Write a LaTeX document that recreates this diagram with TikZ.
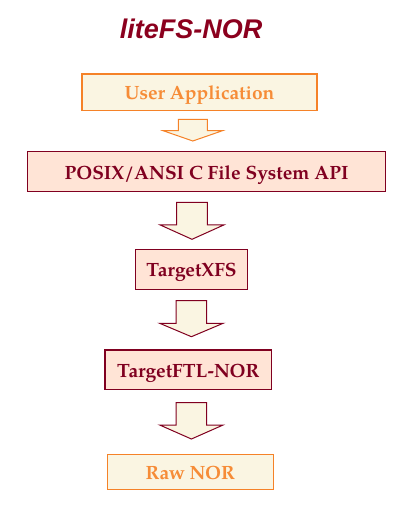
\documentclass[tikz,border=0pt]{standalone}
\usepackage{fontspec}
\setmainfont{Liberation Serif}
\newfontfamily\titlefont{Liberation Sans}
\newfontfamily\boxfont{texgyrepagella-bold.otf}
\definecolor{maroon}{RGB}{128,0,32}
\definecolor{titlered}{RGB}{139,0,30}
\definecolor{orangeline}{RGB}{245,130,40}
\definecolor{orangetext}{RGB}{246,140,55}
\definecolor{cream}{RGB}{250,245,226}
\definecolor{peach}{RGB}{255,228,214}
\tikzset{
  x=1pt, y=-1pt,
  boxtext/.style={inner sep=0pt, text height=15.2pt, text depth=0pt,
    font=\boxfont\fontsize{19.2}{21}\selectfont},
  redbox/.style={boxtext, draw=maroon, fill=peach, line width=1.2pt, text=maroon},
  orangebox/.style={boxtext, draw=orangeline, fill=cream, line width=1.2pt, text=orangetext},
  redarrow/.style={draw=maroon, fill=cream, line width=1pt, line join=miter},
  orangearrow/.style={draw=orangeline, fill=cream, line width=1pt, line join=miter},
}
\newcommand{\blockarr}[7]{% style, cx, top, shaft half, wing half, shoulder y, tip y
  \path[#1] (#2-#4,#3) -- (#2+#4,#3) -- (#2+#4,#6) -- (#2+#5,#6) -- (#2,#7) -- (#2-#5,#6) -- (#2-#4,#6) -- cycle;}
\begin{document}
\begin{tikzpicture}
\useasboundingbox (0,0) rectangle (419,510);
\fill[white] (0,0) rectangle (419,510);
\node[anchor=base, text=titlered, font=\titlefont\bfseries\itshape\fontsize{27}{30}\selectfont] (title) at (191,39) {liteFS-NOR};
\node[orangebox, minimum width=235pt, minimum height=36.5pt] (ua) at (199.5,92.3) {User Application};
\node[redbox, minimum width=358.4pt, minimum height=39.6pt] (posix) at (206.5,171.5) {POSIX/ANSI C File System API};
\node[redbox, minimum width=111.6pt, minimum height=40pt] (xfs) at (191.5,269.3) {TargetXFS};
\node[redbox, minimum width=166.7pt, minimum height=39.3pt] (ftl) at (188.3,369.7) {TargetFTL-NOR};
\node[orangebox, minimum width=166pt, minimum height=35pt] (raw) at (190.3,471.8) {Raw NOR};
\blockarr{orangearrow}{192.8}{119.3}{14.5}{29.7}{130.7}{141}
\blockarr{redarrow}{192}{202.3}{15.3}{31.7}{225}{239.3}
\blockarr{redarrow}{191.4}{300.7}{15.3}{31.7}{323.3}{336.7}
\blockarr{redarrow}{191.4}{402.7}{15.3}{31.7}{425}{439}
\end{tikzpicture}
\end{document}
